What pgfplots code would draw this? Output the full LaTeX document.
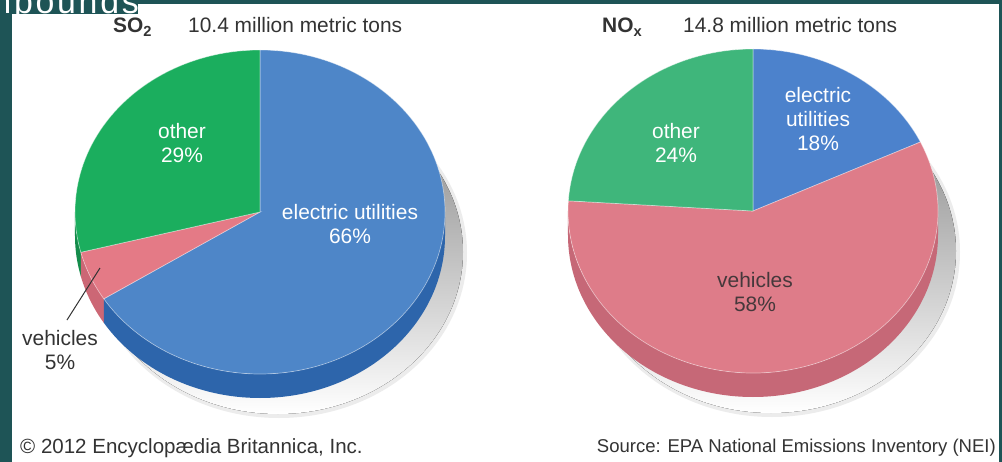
\documentclass[border=0pt]{standalone}
\usepackage{pgfplots}
\pgfplotsset{compat=1.18}
\usepackage{fontspec}
\setmainfont{Liberation Sans}
\newfontfamily\slidefont[LetterSpace=8]{Liberation Sans}

\definecolor{slate}{HTML}{1E5456}
\definecolor{shade}{HTML}{DCDCDC}
\definecolor{shadelight}{HTML}{ECECEC}
\definecolor{sotop}{HTML}{4E86C8}
\definecolor{soside}{HTML}{2D65AB}
\definecolor{sogreen}{HTML}{1BAE5E}
\definecolor{sogreenside}{HTML}{148C4B}
\definecolor{sored}{HTML}{E47A86}
\definecolor{soredside}{HTML}{CC6775}
\definecolor{notop}{HTML}{4C82CC}
\definecolor{nogreen}{HTML}{3FB67B}
\definecolor{nored}{HTML}{DE7C89}
\definecolor{noredside}{HTML}{C66877}
\definecolor{ink}{HTML}{333333}
\definecolor{darkink}{HTML}{45383B}

\newcommand\fs[1]{\fontsize{#1}{#1}\selectfont}

% top face of a slice: centre x, centre y, start (percent), share (percent), colour
\newcommand\topslice[5]{%
  \fill[#5, draw=white, draw opacity=0.45, line width=0.7bp] (axis cs:#1,#2)
    -- +({90-3.6*(#3)}:185bp and 162bp)
    arc[start angle={90-3.6*(#3)}, end angle={90-3.6*(#3+#4)}, x radius=185bp, y radius=162bp]
    -- cycle;}
% visible rim of a slice: centre x, centre y, from angle, to angle, colour
\newcommand\rim[5]{%
  \fill[#5] (axis cs:#1,#2) ++({#3}:185bp and 162bp)
    arc[start angle={#3}, end angle={#4}, x radius=185bp, y radius=162bp]
    -- ++(0,-24bp)
    arc[start angle={#4}, end angle={#3}, x radius=185bp, y radius=162bp]
    -- cycle;}

\begin{document}
\begin{tikzpicture}
\useasboundingbox (0,0) rectangle (1002bp,462bp);
\clip (0,0) rectangle (1002bp,462bp);
\begin{axis}[x=1bp, y=1bp, xmin=0, xmax=1002, ymin=0, ymax=462,
  hide axis, clip=false]

% slide frame, with the cut-off slide title over the picture's corner
\fill[slate] (axis cs:0,0) rectangle (axis cs:1002,462);
\fill[white] (axis cs:138,448) rectangle (axis cs:999,458);
\node[anchor=base east, white, font=\slidefont\fs{34}, inner sep=0pt, text depth=0pt] at (axis cs:139,448) {Compounds};
\fill[white] (axis cs:12,0) rectangle (axis cs:999,448);

% ---- SO2: electric utilities 66, vehicles 5, other 29
\fill[shadelight] (axis cs:279,209) ellipse [x radius=188bp, y radius=165bp];
\fill[shade] (axis cs:278,210) ellipse [x radius=185bp, y radius=162bp];
\rim{260}{250}{-180}{90-3.6*71}{sogreenside}
\rim{260}{250}{90-3.6*71}{90-3.6*66}{soredside}
\rim{260}{250}{90-3.6*66}{0}{soside}
\topslice{260}{250}{0}{66}{sotop}
\topslice{260}{250}{66}{5}{sored}
\topslice{260}{250}{71}{29}{sogreen}

% ---- NOx: electric utilities 18, vehicles 58, other 24
\fill[shadelight] (axis cs:772,210) ellipse [x radius=188bp, y radius=165bp];
\fill[shade] (axis cs:771,211) ellipse [x radius=185bp, y radius=162bp];
\rim{753}{251}{-180}{0}{noredside}
\topslice{753}{251}{0}{18}{notop}
\topslice{753}{251}{18}{58}{nored}
\topslice{753}{251}{76}{24}{nogreen}

% titles
\tikzset{title/.style={anchor=base west, ink, inner sep=0pt, text height=15bp}}
\node[title, font=\fs{21}\bfseries] at (axis cs:113,429) {SO\textsubscript{2}};
\node[title, font=\fs{21}] at (axis cs:188,429) {10.4 million metric tons};
\node[title, font=\fs{21}\bfseries] at (axis cs:602,429) {NO\textsubscript{x}};
\node[title, font=\fs{21}] at (axis cs:683,429) {14.8 million metric tons};

% slice labels
\node[white, align=center, font=\fs{21}] at (axis cs:182,319) {other\\[3bp]29\%};
\node[white, align=center, font=\fs{21}] at (axis cs:350,238) {electric utilities\\[3bp]66\%};
\node[ink, align=center, font=\fs{21}] at (axis cs:60,112) {vehicles\\[3bp]5\%};
\draw[ink, line width=1bp] (axis cs:100,194) -- (axis cs:67,142);
\node[white, align=center, font=\fs{21}] at (axis cs:818,343) {electric\\[3bp]utilities\\[3bp]18\%};
\node[white, align=center, font=\fs{21}] at (axis cs:676,319) {other\\[3bp]24\%};
\node[darkink, align=center, font=\fs{21}] at (axis cs:755,170) {vehicles\\[3bp]58\%};

% credits
\node[anchor=west, ink, font=\fs{20.6}, inner sep=0pt] at (axis cs:20,14) {\textcopyright\ 2012 Encyclop\ae dia Britannica, Inc.};
\node[anchor=east, ink, font=\fs{18.6}, inner sep=0pt] at (axis cs:996,14) {Source: EPA National Emissions Inventory (NEI)};
\end{axis}
\end{tikzpicture}
\end{document}
